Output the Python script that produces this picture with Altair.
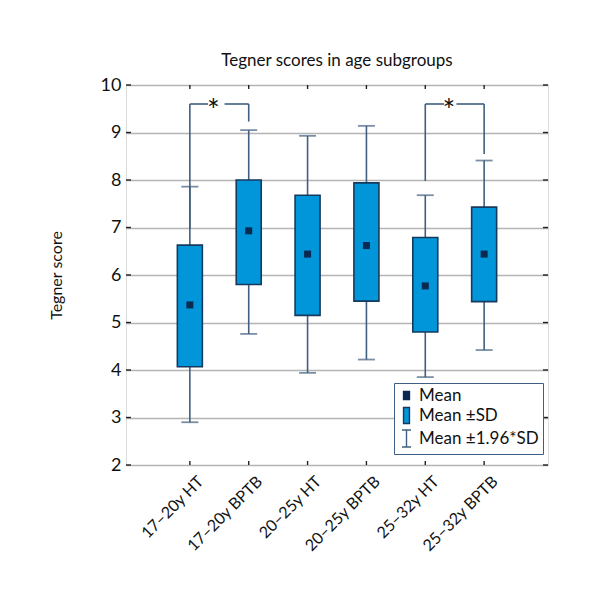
import json
import altair as alt
import pandas as pd

# ---- data ----
groups = ["17–20y HT", "17–20y BPTB", "20–25y HT", "20–25y BPTB", "25–32y HT", "25–32y BPTB"]
mean = [5.37, 6.93, 6.44, 6.62, 5.77, 6.44]
sd_low = [4.07, 5.80, 5.15, 5.45, 4.80, 5.44]
sd_high = [6.63, 8.00, 7.68, 7.94, 6.79, 7.43]
ci_low = [2.90, 4.76, 3.94, 4.22, 3.85, 4.42]
ci_high = [7.86, 9.05, 8.93, 9.14, 7.68, 8.41]

# significance brackets
bracket_y = 9.6
leg_x = [1, 2, 5, 6]
leg_end = [6.98, 9.23, 7.98, 8.55]
seg_x = [1.0, 1.59, 5.0, 5.53]
seg_x2 = [1.31, 2.0, 5.32, 6.0]
star_x = [1.40, 5.40]

legend_items = ["Mean", "Mean ±SD", "Mean ±1.96*SD"]
y_ticks = [2, 3, 4, 5, 6, 7, 8, 9, 10]

FONT = "Lato, Roboto, sans-serif"
BOX_FILL = "#0096d9"
BOX_STROKE = "#163a5e"
WHISK = "#41607f"
MEAN_C = "#0a2a52"

W, H = 422, 380

idx = list(range(1, len(groups) + 1))
df = pd.DataFrame({"idx": idx, "group": groups, "mean": mean, "sd_low": sd_low,
                   "sd_high": sd_high, "ci_low": ci_low, "ci_high": ci_high})
legs = pd.DataFrame({"x": leg_x, "y": [bracket_y] * len(leg_x), "y2": leg_end})
segs = pd.DataFrame({"x": seg_x, "x2": seg_x2, "y": [bracket_y] * len(seg_x)})
stars = pd.DataFrame({"x": star_x, "y": [bracket_y] * len(star_x), "t": ["*"] * len(star_x)})
leg_df = pd.DataFrame({"item": legend_items})
ytick_df = pd.DataFrame({"v": y_ticks})
xtick_df = pd.DataFrame({"v": idx})

xscale = alt.Scale(domain=[0, 7], nice=False, zero=False)
yscale = alt.Scale(domain=[2, 10], nice=False, zero=False)

label_expr = json.dumps(groups, ensure_ascii=False) + "[datum.value - 1]"
xaxis = alt.Axis(values=idx, labelExpr=label_expr, grid=False, ticks=False, domain=False,
                 title=None, labelAngle=-45, labelFont=FONT, labelFontSize=16,
                 labelColor="#111", labelPadding=8, labelOffset=5, labelOverlap=False,
                 labelBound=False)
yaxis = alt.Axis(values=y_ticks, grid=True, gridColor="#b4b4b4", gridWidth=1.6,
                 ticks=False, domain=False, title="Tegner score", titleFont=FONT,
                 titleFontSize=16, titleFontWeight="normal", titleColor="#111",
                 titlePadding=36, labelFont=FONT, labelFontSize=18, labelColor="#111",
                 labelPadding=5)


def X(field):
    return alt.X(field, type="quantitative", scale=xscale, axis=xaxis)


def Y(field):
    return alt.Y(field, type="quantitative", scale=yscale, axis=yaxis)


bracket_legs = alt.Chart(legs).mark_rule(color=WHISK, strokeWidth=1.6).encode(
    x=X("x"), y=Y("y"), y2="y2")
bracket_segs = alt.Chart(segs).mark_rule(color=WHISK, strokeWidth=1.6).encode(
    x=X("x"), x2="x2", y=Y("y"))

whisk = alt.Chart(df).mark_rule(color=WHISK, strokeWidth=1.6).encode(
    x=X("idx"), y=Y("ci_low"), y2="ci_high")
cap_lo = alt.Chart(df).mark_tick(orient="horizontal", size=17, thickness=1.8, color=WHISK).encode(
    x=X("idx"), y=Y("ci_low"))
cap_hi = alt.Chart(df).mark_tick(orient="horizontal", size=17, thickness=1.8, color=WHISK).encode(
    x=X("idx"), y=Y("ci_high"))
boxes = alt.Chart(df).mark_bar(size=25, fill=BOX_FILL, stroke=BOX_STROKE, strokeWidth=1.6).encode(
    x=X("idx"), y=Y("sd_low"), y2="sd_high")
means = alt.Chart(df).mark_square(size=49, color=MEAN_C, opacity=1).encode(
    x=X("idx"), y=Y("mean"))

star_text = alt.Chart(stars).mark_text(font=FONT, fontSize=30, color="#111", baseline="middle", dy=8).encode(
    x=X("x"), y=Y("y"), text="t")

paths = ["M-0.42,-0.57H0.42V0.57H-0.42Z",
         "M-0.42,-1.13H0.42V1.13H-0.42Z",
         "M-0.64,-1.2H0.64M0,-1.2V1.2M-0.64,1.2H0.64"]
lg = alt.Legend(title=None, orient="none", legendX=268, legendY=298, strokeColor="#3d5f86",
                fillColor="white", padding=4, labelFont=FONT, labelFontSize=17,
                labelColor="#111", symbolSize=200, rowPadding=0, labelOffset=4,
                symbolStrokeWidth=1.4, symbolOpacity=1)
legend_layer = alt.Chart(leg_df).mark_point(filled=True, clip=True).encode(
    x=alt.value(-200), y=alt.value(-200),
    color=alt.Color("item:N", scale=alt.Scale(domain=legend_items, range=[MEAN_C, BOX_FILL, "transparent"]), legend=lg),
    shape=alt.Shape("item:N", scale=alt.Scale(domain=legend_items, range=paths), legend=lg),
    stroke=alt.Stroke("item:N", scale=alt.Scale(domain=legend_items, range=[MEAN_C, BOX_STROKE, WHISK]), legend=lg),
)

# inward ticks on the frame
tick_left = alt.Chart(ytick_df).mark_rule(color="#222", strokeWidth=1.4).encode(
    y=Y("v"), x=alt.value(0), x2=alt.value(5))
tick_right = alt.Chart(ytick_df).mark_rule(color="#222", strokeWidth=1.4).encode(
    y=Y("v"), x=alt.value(W - 5), x2=alt.value(W))
tick_top = alt.Chart(xtick_df).mark_rule(color="#222", strokeWidth=1.4).encode(
    x=X("v"), y=alt.value(0), y2=alt.value(4))
tick_bot = alt.Chart(xtick_df).mark_rule(color="#222", strokeWidth=1.4).encode(
    x=X("v"), y=alt.value(H - 4), y2=alt.value(H))

chart = alt.layer(
    bracket_legs, bracket_segs, whisk, cap_lo, cap_hi, boxes, means, star_text,
    tick_left, tick_right, tick_top, tick_bot, legend_layer
).properties(
    width=W, height=H,
    title=alt.Title("Tegner scores in age subgroups", font=FONT, fontSize=17,
                    fontWeight="normal", color="#111", offset=6),
    autosize=alt.AutoSizeParams(type="none"),
    padding={"left": 118, "top": 77, "right": 20, "bottom": 100},
).configure_view(stroke="#222", strokeWidth=1.6).configure(background="white")

chart.save("out.html", embed_options={"renderer": "svg", "actions": False})
